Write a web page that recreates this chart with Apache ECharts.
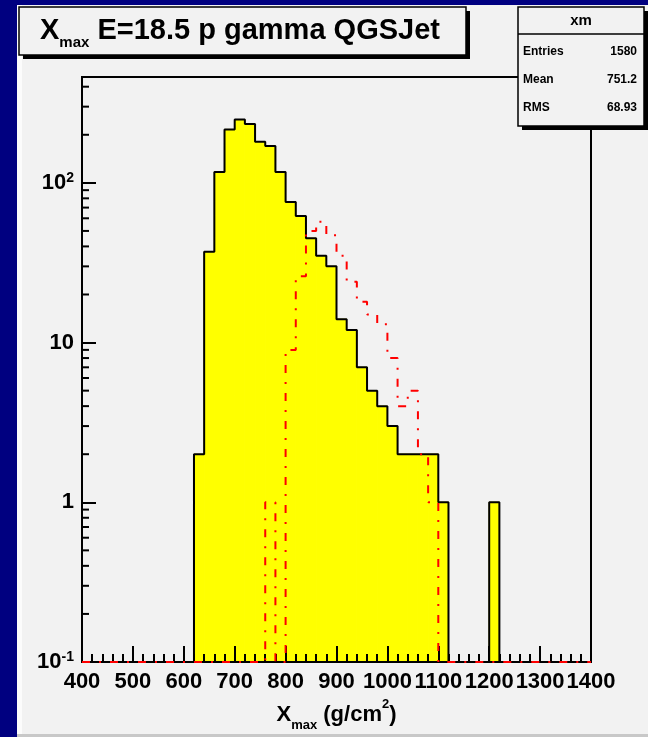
<!DOCTYPE html>
<html><head><meta charset="utf-8">
<script src="https://cdn.jsdelivr.net/npm/echarts@6/dist/echarts.min.js"></script>
<style>html,body{margin:0;padding:0;background:#000080;} #c{width:648px;height:737px;}</style>
</head><body><div id="c"></div>
<script>
// ---- data ----
const binStart = 400, binWidth = 20;
// X_max histogram (yellow, black outline): counts per 20 g/cm2 bin from 400 to 1400
const yellowCounts = [0,0,0,0,0,0,0,0,0,0,0,
  2,37,117,216,249,234,181,170,117,76,62,45,35,30,14,12,7,5,4,3,2,2,2,2,1,
  0,0,0,0,1,0,0,0,0,0,0,0,0,0];
// second histogram (red dash-dot)
const redCounts = [0,0,0,0,0,0,0,0,0,0,0,0,0,0,0,0,0,0,
  1,0,9,26,50,57,47,35,24,18,15,13,8,4,5,2,1,
  0,0,0,0,0,0,0,0,0,0,0,0,0,0,0];
const xTicks = [400,500,600,700,800,900,1000,1100,1200,1300,1400];
const yTicks = [0.1,1,10,100];
const yMinorTicks = [0.2,0.3,0.4,0.5,0.6,0.7,0.8,0.9,2,3,4,5,6,7,8,9,20,30,40,50,60,70,80,90,200,300,400];
const titleMain = 'X', titleSub = 'max', titleRest = ' E=18.5 p gamma QGSJet';
const statsName = 'xm';
const statsLabels = ['Entries','Mean','RMS'];
const statsValues = ['1580','751.2','68.93'];

const yMin = 0.1, yMax = 460, xMin = 400, xMax = 1400;
const F = '"Liberation Sans", Arial, Helvetica, sans-serif';

function stepData(counts){
  const d = counts.map((c,i)=>[binStart+i*binWidth, Math.max(c,yMin)]);
  d.push([binStart+counts.length*binWidth, Math.max(counts[counts.length-1],yMin)]);
  return d;
}
function fillData(counts){
  return counts.map((c,i)=>[binStart+i*binWidth, binStart+(i+1)*binWidth, c]).filter(d=>d[2]>0);
}

const chart = echarts.init(document.getElementById('c'), null, {renderer:'canvas'});

const statsGraphics = [];
statsGraphics.push({type:'rect', shape:{x:522,y:11,width:126,height:119}, style:{fill:'#000'}, z:100});
statsGraphics.push({type:'rect', shape:{x:518,y:7,width:126,height:119}, style:{fill:'#f2f2f2', stroke:'#000', lineWidth:1.5}, z:101});
statsGraphics.push({type:'line', shape:{x1:518,y1:34,x2:644,y2:34}, style:{stroke:'#000', lineWidth:1.5}, z:102});
statsGraphics.push({type:'text', x:581, y:21, style:{text:statsName, font:'bold 15px '+F, fill:'#000', align:'center', verticalAlign:'middle'}, z:102});
statsLabels.forEach((lab,i)=>{
  const y = 52 + i*28;
  statsGraphics.push({type:'text', x:523, y:y, style:{text:lab, font:'bold 12px '+F, fill:'#000', align:'left', verticalAlign:'middle'}, z:102});
  statsGraphics.push({type:'text', x:637, y:y, style:{text:statsValues[i], font:'bold 12px '+F, fill:'#000', align:'right', verticalAlign:'middle'}, z:102});
});

const option = {
  animation:false,
  backgroundColor:'#000080',
  graphic:[
    {type:'rect', shape:{x:17,y:5,width:631,height:732}, style:{fill:'#f2f2f2'}, z:-10, silent:true},
    {type:'rect', shape:{x:17,y:5,width:5,height:732}, style:{fill:'#fcfcfc'}, z:-9, silent:true},
    {type:'rect', shape:{x:17,y:734,width:631,height:3}, style:{fill:'#c8c8c8'}, z:-9, silent:true},
    {type:'rect', shape:{x:23,y:11,width:447,height:48}, style:{fill:'#000'}, z:100},
    {type:'rect', shape:{x:19,y:7,width:447,height:48}, style:{fill:'#f2f2f2', stroke:'#000', lineWidth:1.5}, z:101},
    {type:'text', x:40, y:31, z:102, style:{
      text:'{a|'+titleMain+'}{s|'+titleSub+'}{a|'+titleRest+'}',
      verticalAlign:'middle', align:'left',
      rich:{
        a:{fontSize:29, fontWeight:'bold', fontFamily:F, color:'#000', lineHeight:38, verticalAlign:'middle'},
        s:{fontSize:15, fontWeight:'bold', fontFamily:F, color:'#000', lineHeight:15, verticalAlign:'bottom'}
      }}},
    ...statsGraphics
  ],
  grid:{left:82, top:77, width:509, height:586, show:true, borderColor:'#000', borderWidth:2, backgroundColor:'transparent'},
  xAxis:{
    type:'value', min:xMin, max:xMax, interval:100, z:10,
    axisLine:{show:true, onZero:false, lineStyle:{color:'#000', width:2}},
    axisTick:{show:true, inside:true, length:16, lineStyle:{color:'#000', width:2}},
    minorTick:{show:true, splitNumber:5, length:8, lineStyle:{color:'#000', width:2}},
    splitLine:{show:false},
    axisLabel:{show:true, margin:9, color:'#000', fontSize:22, fontWeight:'bold', fontFamily:F,
      customValues:xTicks, showMinLabel:true, showMaxLabel:true, hideOverlap:false,
      formatter:function(v){ return String(Math.round(v)); }},
    name:'{a|X}{s|max}{a| (g/cm}{p|2}{a|)}',
    nameLocation:'middle', nameGap:36,
    nameTextStyle:{rich:{
      a:{fontSize:22, fontWeight:'bold', fontFamily:F, color:'#000', lineHeight:34, verticalAlign:'middle'},
      s:{fontSize:13, fontWeight:'bold', fontFamily:F, color:'#000', lineHeight:14, verticalAlign:'bottom'},
      p:{fontSize:13, fontWeight:'bold', fontFamily:F, color:'#000', lineHeight:22, verticalAlign:'top'}
    }}
  },
  yAxis:{
    type:'log', logBase:10, min:yMin, max:yMax, z:10,
    axisLine:{show:true, lineStyle:{color:'#000', width:2}},
    axisTick:{show:true, inside:true, length:14, lineStyle:{color:'#000', width:2}, customValues:yTicks},
    splitLine:{show:false},
    axisLabel:{show:true, margin:8, customValues:yTicks, showMinLabel:true, hideOverlap:false,
      formatter:function(v){
        const e = Math.round(Math.log10(v));
        if (e===0) return '{n|1}';
        if (e===1) return '{n|10}';
        return '{n|10}{p|'+e+'}';
      },
      rich:{
        n:{fontSize:22, fontWeight:'bold', fontFamily:F, color:'#000', lineHeight:24, verticalAlign:'middle'},
        p:{fontSize:14, fontWeight:'bold', fontFamily:F, color:'#000', lineHeight:14, verticalAlign:'top'}
      }
    }
  },
  series:[
    {type:'custom', name:'fill', coordinateSystem:'cartesian2d', silent:true, z:2,
      encode:{x:[0,1], y:2},
      data:fillData(yellowCounts),
      renderItem:function(params, api){
        const p0 = api.coord([api.value(0), api.value(2)]);
        const p1 = api.coord([api.value(1), yMin]);
        return {type:'rect', shape:{x:p0[0], y:p0[1], width:p1[0]-p0[0], height:p1[1]-p0[1]},
          style:{fill:'#ffff00', stroke:'#ffff00', lineWidth:1}};
      }},
    {type:'line', name:'outline', step:'end', symbol:'none', silent:true, z:3,
      data:stepData(yellowCounts),
      lineStyle:{color:'#000', width:2}},
    {type:'line', name:'red', step:'end', symbol:'none', silent:true, z:12,
      data:stepData(redCounts),
      lineStyle:{color:'#ff0000', width:2, type:[8,9,2,9]}},
    {type:'custom', name:'yminor', coordinateSystem:'cartesian2d', silent:true, z:11,
      data:yMinorTicks.map(v=>[xMin, v]),
      renderItem:function(params, api){
        const c = api.coord([api.value(0), api.value(1)]);
        return {type:'line', shape:{x1:c[0], y1:c[1], x2:c[0]+7, y2:c[1]}, style:{stroke:'#000', lineWidth:2}};
      }}
  ]
};
chart.setOption(option);
</script></body></html>
